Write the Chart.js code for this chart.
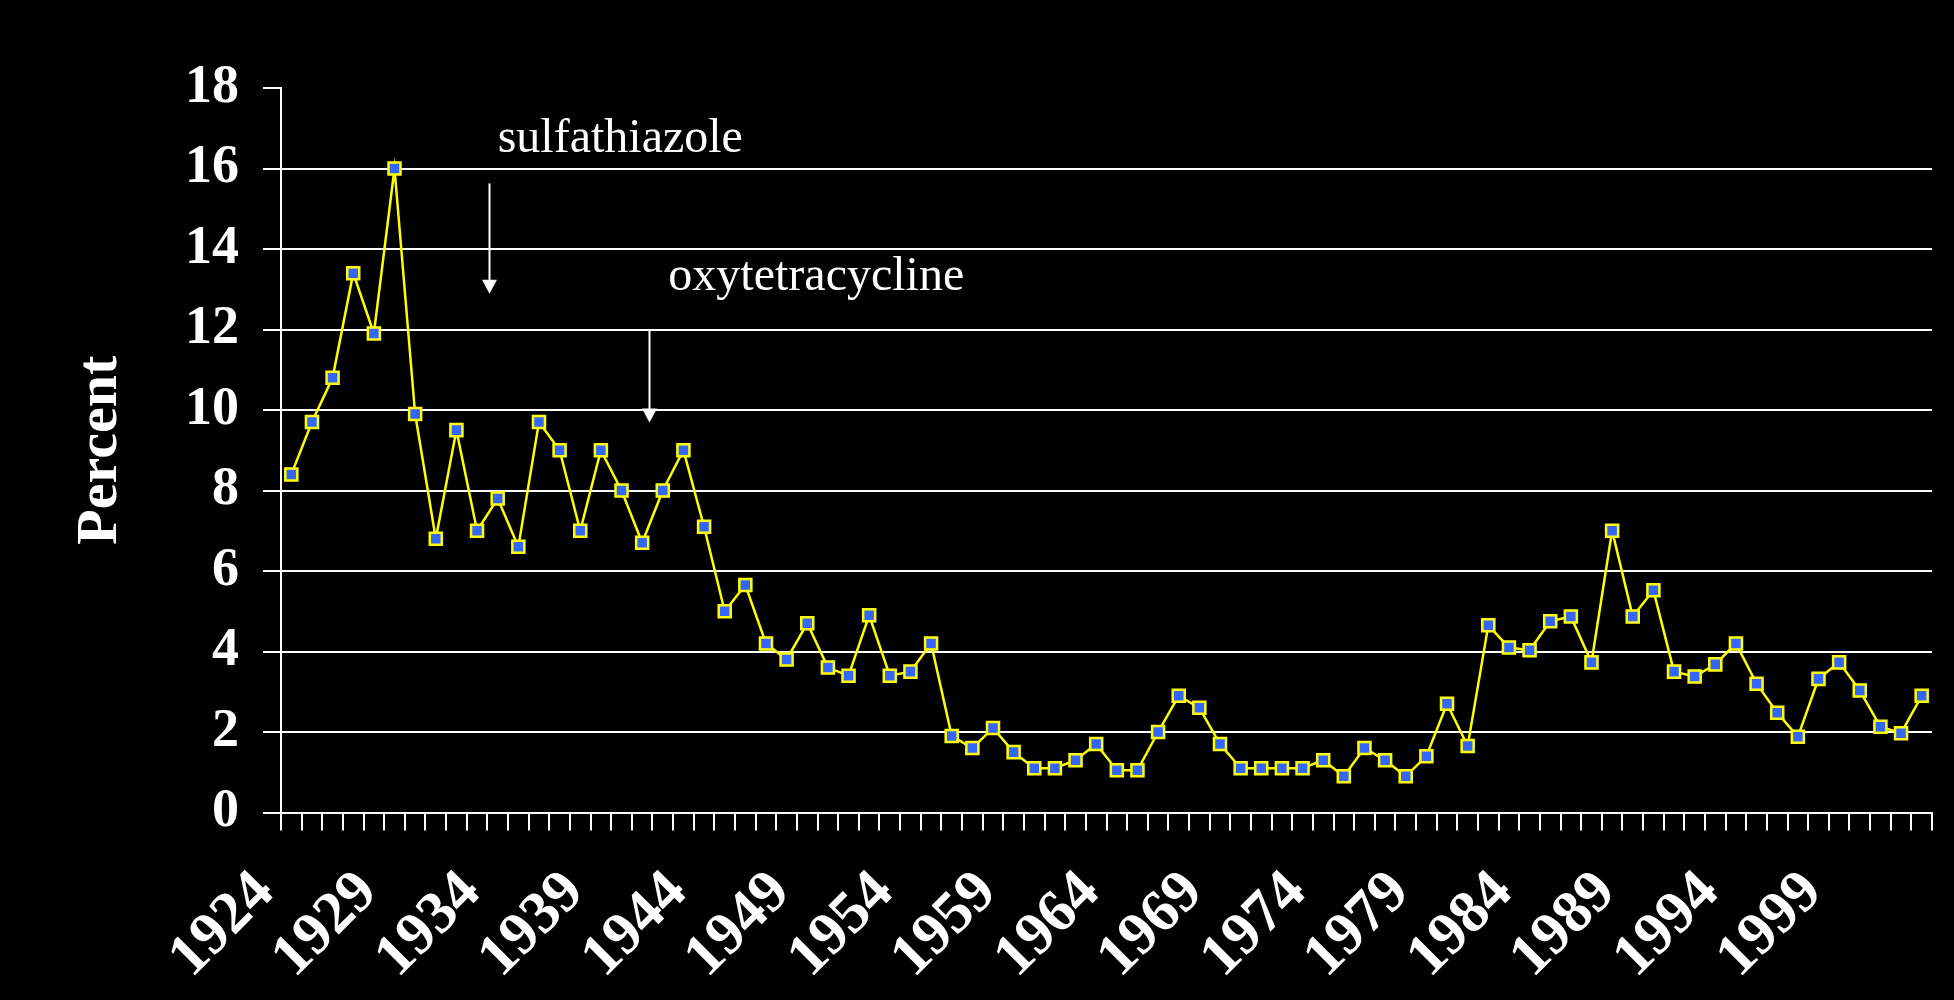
<!DOCTYPE html>
<html>
<head>
<meta charset="utf-8">
<script src="https://cdn.jsdelivr.net/npm/chart.js@4.4.1/dist/chart.umd.min.js"></script>
<style>
  html, body { margin: 0; padding: 0; background: #000; }
  #wrap { width: 1954px; height: 1000px; position: relative; }
</style>
</head>
<body>
<div id="wrap"><canvas id="c" width="1954" height="1000"></canvas></div>
<script>
// Years on the category axis
const years = [
  '1924','1925','1926','1927','1928','1929','1930','1931','1932','1933',
  '1934','1935','1936','1937','1938','1939','1940','1941','1942','1943',
  '1944','1945','1946','1947','1948','1949','1950','1951','1952','1953',
  '1954','1955','1956','1957','1958','1959','1960','1961','1962','1963',
  '1964','1965','1966','1967','1968','1969','1970','1971','1972','1973',
  '1974','1975','1976','1977','1978','1979','1980','1981','1982','1983',
  '1984','1985','1986','1987','1988','1989','1990','1991','1992','1993',
  '1994','1995','1996','1997','1998','1999','2000','2001','2002','2003'
];

// Percent per year
const percent = [
  8.4, 9.7, 10.8, 13.4, 11.9, 16.0, 9.9, 6.8, 9.5, 7.0,
  7.8, 6.6, 9.7, 9.0, 7.0, 9.0, 8.0, 6.7, 8.0, 9.0,
  7.1, 5.0, 5.65, 4.2, 3.8, 4.7, 3.6, 3.4, 4.9, 3.4,
  3.5, 4.2, 1.9, 1.6, 2.1, 1.5, 1.1, 1.1, 1.3, 1.7,
  1.05, 1.05, 2.0, 2.9, 2.6, 1.7, 1.1, 1.1, 1.1, 1.1,
  1.3, 0.9, 1.6, 1.3, 0.9, 1.4, 2.7, 1.65, 4.65, 4.1,
  4.03, 4.75, 4.87, 3.73, 7.0, 4.87, 5.52, 3.5, 3.38, 3.68,
  4.2, 3.2, 2.48, 1.88, 3.32, 3.73, 3.03, 2.13, 1.97, 2.9
];

// Years that carry a printed label
const labeledYears = ['1924','1929','1934','1939','1944','1949','1954','1959',
  '1964','1969','1974','1979','1984','1989','1994','1999'];

// Y axis ticks
const yTicks = [0, 2, 4, 6, 8, 10, 12, 14, 16, 18];

// Drug introduction notes: label text and arrow, in axis units (x = category index)
const drugNotes = [
  { text: 'sulfathiazole',   textX: 10.0,  textY: 16.42, arrowX: 9.6,   arrowFrom: 15.63, arrowTo: 12.89 },
  { text: 'oxytetracycline', textX: 18.27, textY: 12.99, arrowX: 17.33, arrowFrom: 11.98, arrowTo: 9.69 }
];

const SERIF = '"Liberation Serif", "Times New Roman", serif';

const blackBackground = {
  id: 'blackBackground',
  beforeDraw(chart) {
    const ctx = chart.ctx;
    ctx.save();
    ctx.fillStyle = '#000';
    ctx.fillRect(0, 0, chart.width, chart.height);
    ctx.restore();
  }
};

const drugNotesPlugin = {
  id: 'drugNotes',
  afterDatasetsDraw(chart) {
    const ctx = chart.ctx;
    const xs = chart.scales.x, ys = chart.scales.y;
    ctx.save();
    ctx.fillStyle = '#fff';
    ctx.strokeStyle = '#fff';
    ctx.font = '48px ' + SERIF;
    ctx.textAlign = 'left';
    ctx.textBaseline = 'alphabetic';
    drugNotes.forEach(n => {
      ctx.fillText(n.text, xs.getPixelForValue(n.textX), ys.getPixelForValue(n.textY));
      const ax = Math.round(xs.getPixelForValue(n.arrowX)) + 0.5;
      const y0 = ys.getPixelForValue(n.arrowFrom);
      const y1 = ys.getPixelForValue(n.arrowTo);
      const head = 14, half = 7.5;
      ctx.lineWidth = 2;
      ctx.beginPath();
      ctx.moveTo(ax, y0);
      ctx.lineTo(ax, y1 - head + 1);
      ctx.stroke();
      ctx.beginPath();
      ctx.moveTo(ax - half, y1 - head);
      ctx.lineTo(ax + half, y1 - head);
      ctx.lineTo(ax, y1);
      ctx.closePath();
      ctx.fill();
    });
    ctx.restore();
  }
};

new Chart(document.getElementById('c'), {
  type: 'line',
  data: {
    labels: years,
    datasets: [{
      data: percent,
      borderColor: '#ffff00',
      borderWidth: 2.5,
      pointStyle: 'rect',
      pointRadius: 8.5,
      pointBackgroundColor: '#3366ff',
      pointBorderColor: '#ffff00',
      pointBorderWidth: 2.5,
      tension: 0,
      fill: false
    }]
  },
  options: {
    responsive: false,
    animation: false,
    devicePixelRatio: 1,
    layout: { padding: { top: 88, right: 22, bottom: 0, left: 0 } },
    plugins: { legend: { display: false }, tooltip: { enabled: false } },
    scales: {
      x: {
        type: 'category',
        offset: true,
        afterFit(scale) {
          scale.height = 187.5;
          scale.paddingLeft = 0;
          scale.paddingRight = 0;
        },
        grid: {
          offset: true,
          drawOnChartArea: false,
          drawTicks: true,
          tickLength: 18,
          color: '#fff',
          lineWidth: 2
        },
        border: { color: '#fff', width: 2 },
        ticks: {
          autoSkip: false,
          minRotation: 45,
          maxRotation: 45,
          padding: 27,
          labelOffset: -26,
          color: '#fff',
          font: { family: SERIF, size: 60, weight: 'bold' },
          callback(value, index) {
            const y = years[index];
            return labeledYears.includes(y) ? y : '';
          }
        }
      },
      y: {
        min: yTicks[0],
        max: yTicks[yTicks.length - 1],
        afterFit(scale) { scale.width = 281; },
        afterBuildTicks(scale) { scale.ticks = yTicks.map(v => ({ value: v })); },
        grid: {
          color: ctx => (ctx.tick && ctx.tick.value === 18) ? 'rgba(0,0,0,0)' : '#fff',
          tickColor: '#fff',
          tickLength: 18,
          lineWidth: 2
        },
        border: { color: '#fff', width: 2 },
        ticks: {
          padding: 24,
          color: '#fff',
          font: { family: SERIF, size: 54, weight: 'bold' }
        },
        title: {
          display: true,
          text: 'Percent',
          color: '#fff',
          padding: { top: 66, bottom: 0 },
          font: { family: SERIF, size: 58, weight: 'bold' }
        }
      }
    }
  },
  plugins: [blackBackground, drugNotesPlugin]
});
</script>
</body>
</html>
